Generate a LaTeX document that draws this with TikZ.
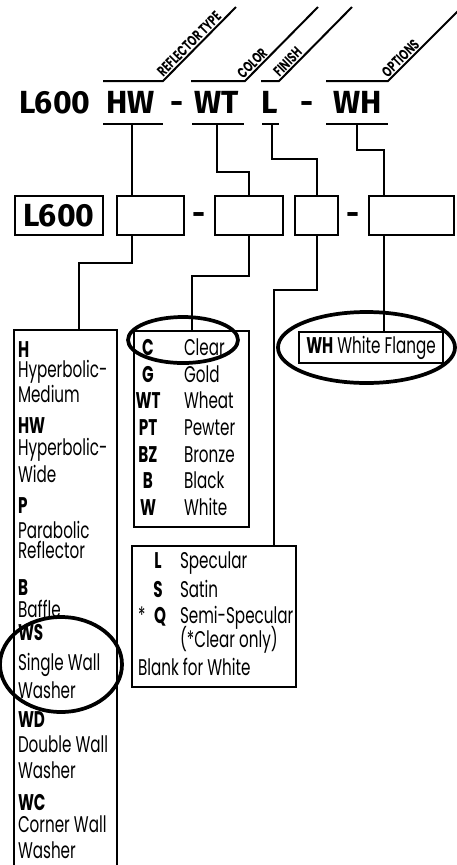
\documentclass[tikz,border=0pt]{standalone}
\usepackage{fontspec}
\setmainfont{Fira Sans}
\newfontfamily\condfont[FakeStretch=0.67]{Poppins}
\newfontfamily\tagfont[FakeStretch=0.7]{Poppins}

\begin{document}
\begin{tikzpicture}[x=0.75pt, y=-0.75pt, line width=1.5pt,
  code/.style={font=\fontsize{24}{26}\selectfont\bfseries, inner sep=0pt, anchor=base},
  slot/.style={draw, minimum height=29.25pt, inner sep=0pt, anchor=north west},
  list/.style={draw, inner sep=0pt, anchor=north west},
  tag/.style={font=\tagfont\bfseries\fontsize{11}{12}\selectfont, sloped, above, inner sep=0.8pt},
  item/.style={font=\condfont\fontsize{17}{19}\selectfont, inner sep=0pt, anchor=base west},
  key/.style={font=\condfont\bfseries\fontsize{17}{19}\selectfont, inner sep=0pt, anchor=base},
  loop/.style={line width=2.8pt}]
  \useasboundingbox (0,0) rectangle (457,865);
  \clip (0,0) rectangle (457,865);

  % Part number
  \node[code] (top-l600) at (55,113) {L600};
  \node[code] (top-hw) at (130.5,113) {HW};
  \node[code] (top-d1) at (177.5,113) {-};
  \node[code] (top-wt) at (216.5,113) {WT};
  \node[code] (top-l) at (270,113) {L};
  \node[code] (top-d2) at (307,113) {-};
  \node[code] (top-wh) at (357.5,113) {WH};

  % Over lines with slanted labels
  \draw (103,81) -- (163,81) -- ++(73,-74) node[tag, pos=0.43] (tag-refl) {REFLECTOR TYPE};
  \draw (191,81) -- (245,81) -- ++(73,-74) node[tag, pos=0.17] (tag-color) {COLOR};
  \draw (261,81) -- (279,81) -- ++(73,-74) node[tag, pos=0.19] (tag-finish) {FINISH};
  \draw (326,81) -- (388,81) -- ++(80,-80) node[tag, pos=0.22] (tag-opt) {OPTIONS};

  % Under lines
  \draw (103,124) -- (163,124);
  \draw (192,124) -- (244,124);
  \draw (262,124) -- (279,124);
  \draw (326,124) -- (388,124);
  \coordinate (hw-drop) at (132,124);
  \coordinate (wt-drop) at (217,124);
  \coordinate (l-drop) at (272,124);
  \coordinate (wh-drop) at (357,124);

  % Blank boxes
  \node[slot, minimum width=66pt, font=\fontsize{24}{26}\selectfont\bfseries] (box-l600) at (14,195) {L600};
  \node[slot, minimum width=50.25pt] (box-hw) at (116,195) {};
  \node[code] (box-d1) at (199,224.5) {-};
  \node[slot, minimum width=51pt] (box-wt) at (214,195) {};
  \node[slot, minimum width=32.25pt] (box-l) at (294,195) {};
  \node[code] (box-d2) at (353,224.5) {-};
  \node[slot, minimum width=63.75pt] (box-wh) at (368,195) {};
  \coordinate (wh-in) at (384,195);
  \coordinate (hw-out) at (132,234);
  \coordinate (wh-out) at (384,234);

  \draw (hw-drop) -- (hw-drop |- box-hw.north);
  \draw (wt-drop) -- ++(0,48) -| (box-wt.north);
  \draw (l-drop) -- ++(0,35) -| (box-l.north);
  \draw (wh-drop) -- ++(0,26) -| (wh-in);

  % Option lists
  \node[list, minimum width=77.25pt, minimum height=406pt] (list-refl) at (13,329) {};
  \node[list, minimum width=86.25pt, minimum height=147pt] (list-color) at (133,330) {};
  \node[list, minimum width=123pt, minimum height=105.75pt] (list-fin) at (131,545) {};
  \node[draw, minimum width=108pt, minimum height=23.25pt, inner sep=0pt,
    font=\condfont\fontsize{17}{19}\selectfont] (list-opt) at (371,347.5) {\textbf{WH} White Flange};
  \coordinate (refl-in) at (79,329);
  \coordinate (fin-in) at (274,545);

  \draw (hw-out) -- ++(0,29) -| (refl-in);
  \draw (box-wt.south) -- ++(0,40) -| (list-color.north);
  \draw (box-l.south) -- ++(0,54) -| (fin-in);
  \draw (wh-out) -- (wh-out |- list-opt.north);

  % Reflector type
  \foreach \y/\t [count=\i] in {357/\textbf{H}, 377/Hyperbolic-, 402/Medium,
      433/\textbf{HW}, 455/Hyperbolic-, 482/Wide, 513/\textbf{P}, 538/Parabolic,
      558/Reflector, 595/\textbf{B}, 617/Baffle, 640/\textbf{WS}, 670/Single Wall,
      698/Washer, 727/\textbf{WD}, 752/Double Wall, 778/Washer, 810/\textbf{WC},
      832/Corner Wall, 858/Washer}
    \node[item] (refl-\i) at (17,\y) {\t};

  % Colour
  \foreach \y/\c/\n [count=\i] in {355/C/Clear, 382/G/Gold, 408/WT/Wheat,
      435/PT/Pewter, 462/BZ/Bronze, 488/B/Black, 515/W/White} {
    \node[key] (col-key-\i) at (148,\y) {\c};
    \node[item] (col-name-\i) at (183,\y) {\n};
  }

  % Finish
  \node[key] (fin-key-1) at (158,568) {L};
  \node[key] (fin-key-2) at (158,597) {S};
  \node[key] (fin-key-3) at (160,623) {Q};
  \node[item] (fin-star) at (137,623) {*};
  \foreach \y/\n [count=\i] in {568/Specular, 597/Satin, 623/Semi-Specular, 647/(*Clear only)}
    \node[item] (fin-name-\i) at (179,\y) {\n};
  \node[item] (fin-blank) at (137,675) {Blank for White};

  % Hand drawn marks
  \draw[loop] (183,340) ellipse [x radius=55, y radius=23];
  \draw[loop] (366.5,347.5) ellipse [x radius=88.5, y radius=35.5];
  \draw[loop] (61,664.5) ellipse [x radius=61, y radius=47.5];
\end{tikzpicture}
\end{document}
